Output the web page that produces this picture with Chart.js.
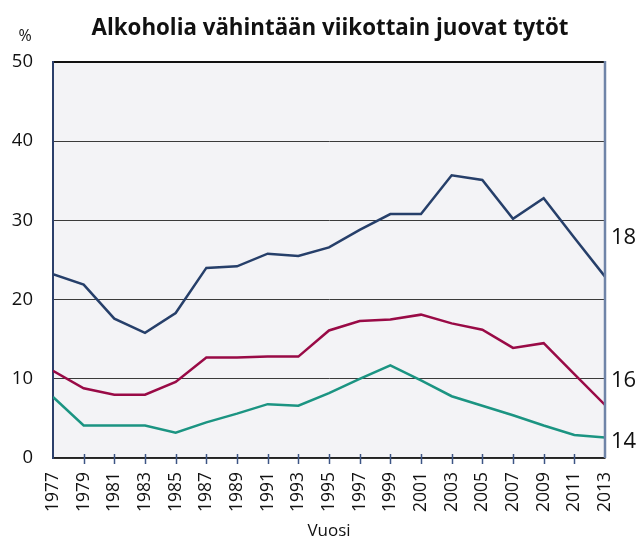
<!DOCTYPE html>
<html>
<head>
<meta charset="utf-8">
<script src="https://cdn.jsdelivr.net/npm/chart.js@4"></script>
<style>
  html, body { margin: 0; padding: 0; background: #fff; }
  #wrap { width: 639px; height: 541px; }
</style>
</head>
<body>
<div id="wrap"><canvas id="myChart" width="639" height="541"></canvas></div>
<script>
// survey years
const years = [1977, 1979, 1981, 1983, 1985, 1987, 1989, 1991, 1993, 1995,
  1997, 1999, 2001, 2003, 2005, 2007, 2009, 2011, 2013]

// % of girls drinking at least weekly, by age
const age18 = [23.2, 21.9, 17.6, 15.8, 18.3, 24.0, 24.2, 25.8, 25.5, 26.6,
  28.8, 30.8, 30.8, 35.7, 35.1, 30.2, 32.8, 27.8, 22.9]
const age16 = [11.0, 8.8, 8.0, 8.0, 9.6, 12.7, 12.7, 12.8, 12.8, 16.1,
  17.3, 17.5, 18.1, 17.0, 16.2, 13.9, 14.5, 10.6, 6.7]
const age14 = [7.7, 4.1, 4.1, 4.1, 3.2, 4.5, 5.6, 6.8, 6.6, 8.2,
  10.0, 11.7, 9.8, 7.8, 6.6, 5.4, 4.1, 2.9, 2.6]

const seriesNames = ['18', '16', '14']
const titleText = 'Alkoholia vähintään viikottain juovat tytöt'

const FONT = "'Open Sans', 'DejaVu Sans', sans-serif"

function points(vals) {
  return vals.map((v, i) => ({ x: years[i], y: v }))
}

// plot background, title, right border, tick marks, side labels and "%"
const decorPlugin = {
  id: 'decor',
  beforeDraw(chart) {
    const { ctx, chartArea: a } = chart
    ctx.save()
    ctx.fillStyle = '#f3f3f6'
    ctx.fillRect(a.left, a.top, a.right - a.left, a.bottom - a.top)
    ctx.restore()
  },
  afterDraw(chart) {
    const { ctx, chartArea: a, scales } = chart
    ctx.save()
    // title
    ctx.fillStyle = '#111'
    ctx.font = 'bold 22.3px ' + FONT
    ctx.textAlign = 'center'
    ctx.textBaseline = 'alphabetic'
    ctx.fillText(titleText, 330, 35)
    // right border
    ctx.strokeStyle = '#6f84a8'
    ctx.lineWidth = 2.5
    ctx.beginPath()
    ctx.moveTo(a.right, a.top - 1)
    ctx.lineTo(a.right, a.bottom)
    ctx.stroke()
    // tick marks crossing the axis
    ctx.strokeStyle = '#3d5585'
    ctx.lineWidth = 1.5
    scales.x.ticks.forEach(t => {
      if (t.value === years[0] || t.value === years[years.length - 1]) return
      const x = Math.round(scales.x.getPixelForValue(t.value)) + 0.5
      ctx.beginPath()
      ctx.moveTo(x, a.bottom - 4)
      ctx.lineTo(x, a.bottom + 6)
      ctx.stroke()
    })
    // "%"
    ctx.font = '16px ' + FONT
    ctx.textAlign = 'center'
    ctx.textBaseline = 'middle'
    ctx.fillText('%', 25, 36)
    // series labels at right edge
    const labelAt = [27.8, 9.8, 2.1]
    ctx.font = '22px ' + FONT
    ctx.textAlign = 'left'
    seriesNames.forEach((s, i) => {
      ctx.fillText(s, a.right + 6, scales.y.getPixelForValue(labelAt[i]))
    })
    ctx.restore()
  }
}

const myChartRef = document.getElementById('myChart').getContext('2d')
new Chart(myChartRef, {
  type: 'line',
  data: {
    datasets: [
      { label: seriesNames[0], data: points(age18), borderColor: '#263f6a' },
      { label: seriesNames[1], data: points(age16), borderColor: '#990a46' },
      { label: seriesNames[2], data: points(age14), borderColor: '#1b9482' }
    ]
  },
  options: {
    responsive: false,
    animation: false,
    layout: { padding: { left: 0, right: 34, top: 62, bottom: 0 } },
    elements: {
      line: { borderWidth: 2.5, tension: 0 },
      point: { radius: 0 }
    },
    plugins: {
      legend: { display: false },
      tooltip: { enabled: false },
      title: { display: false }
    },
    scales: {
      x: {
        type: 'linear',
        min: 1977,
        max: 2013,
        afterFit: s => { s.height = 83 },
        ticks: {
          stepSize: 2,
          autoSkip: false,
          minRotation: 90,
          maxRotation: 90,
          padding: 4,
          color: '#111',
          font: { family: FONT, size: 17.5 },
          callback: v => String(v)
        },
        grid: {
          drawOnChartArea: false,
          tickLength: 10,
          tickColor: 'rgba(0,0,0,0)'
        },
        border: { color: '#222', width: 1.5 },
        title: {
          display: true,
          text: 'Vuosi',
          color: '#111',
          font: { family: FONT, size: 17 },
          padding: { top: 0, bottom: 0 }
        }
      },
      y: {
        min: 0,
        max: 50,
        afterFit: s => { s.width = 53 },
        ticks: {
          stepSize: 10,
          padding: 20,
          color: '#111',
          font: { family: FONT, size: 18.5 }
        },
        grid: {
          drawTicks: false,
          color: c => c.tick && c.tick.value === 50 ? '#111' : '#3a3a3a',
          lineWidth: c => c.tick && c.tick.value === 50 ? 2 : 1
        },
        border: { color: '#2b3f6b', width: 2 }
      }
    }
  },
  plugins: [decorPlugin]
})
</script>
</body>
</html>
